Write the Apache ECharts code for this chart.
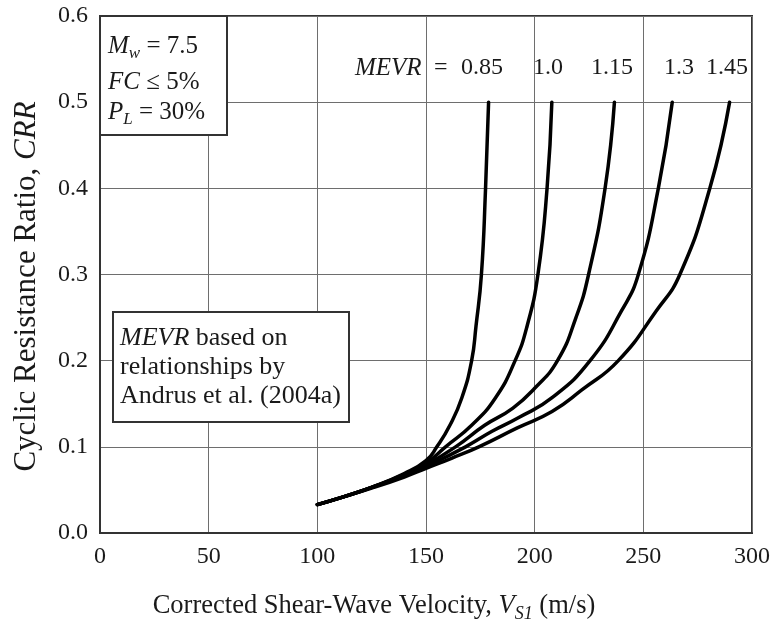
<!DOCTYPE html>
<html>
<head>
<meta charset="utf-8">
<script src="https://cdn.jsdelivr.net/npm/echarts@6/dist/echarts.min.js"></script>
<style>
  html, body { margin: 0; padding: 0; background: #fff; }
  #chart { width: 773px; height: 628px; }
</style>
</head>
<body>
<div id="chart"></div>
<script>
// MEVR curve labels
const mevrLabels = ['0.85', '1.0', '1.15', '1.3', '1.45']

// [Vs1 (m/s), CRR], one array per MEVR curve
const curve085 = [[100, 0.033], [112, 0.042], [125, 0.053], [140, 0.069], [150, 0.084], [155, 0.100], [161, 0.125], [166.5, 0.157], [171, 0.200], [173, 0.240], [175.5, 0.300], [177.4, 0.400], [178.8, 0.500]]
const curve100 = [[100, 0.033], [112, 0.042], [125, 0.053], [140, 0.068], [150, 0.081], [159, 0.100], [171, 0.125], [182, 0.157], [191, 0.200], [196.5, 0.240], [201.5, 0.300], [205.7, 0.400], [207.9, 0.500]]
const curve115 = [[100, 0.033], [112, 0.042], [125, 0.053], [140, 0.067], [150, 0.079], [163.6, 0.100], [177, 0.125], [190, 0.145], [200, 0.168], [210.5, 0.200], [219, 0.250], [224.8, 0.300], [232.4, 0.400], [236.7, 0.500]]
const curve130 = [[100, 0.033], [112, 0.042], [125, 0.053], [140, 0.066], [150, 0.077], [168.2, 0.100], [180.4, 0.118], [192.7, 0.134], [208, 0.157], [225.5, 0.200], [240, 0.258], [247.7, 0.300], [256.9, 0.400], [263.3, 0.500]]
const curve145 = [[100, 0.033], [112, 0.042], [125, 0.052], [140, 0.065], [150, 0.075], [162, 0.087], [174.3, 0.100], [192, 0.122], [208, 0.141], [221.7, 0.166], [238.5, 0.200], [256, 0.258], [266.8, 0.300], [280.6, 0.400], [289.7, 0.500]]

const curves = [curve085, curve100, curve115, curve130, curve145]

// axis ticks
const xTicks = [0, 50, 100, 150, 200, 250, 300]
const yTicks = [0.0, 0.1, 0.2, 0.3, 0.4, 0.5, 0.6]

const FONT = 'Liberation Serif'
const INK = '#1a1a1a'
const FS = 24

const chart = echarts.init(document.getElementById('chart'), null, { renderer: 'canvas' })

// text helper for the boxes and labels
const txt = (x, y, text, size) => ({
  type: 'text',
  x: x,
  y: y,
  z: 110,
  style: {
    text: text,
    fill: INK,
    fontFamily: FONT,
    fontSize: size || FS,
    verticalAlign: 'middle',
    rich: {
      i: { fontFamily: FONT, fontSize: size || FS, fontStyle: 'italic', fill: INK },
      sub: { fontFamily: FONT, fontSize: 17, fontStyle: 'italic', fill: INK, padding: [16, 0, 0, 0] },
      n: { fontFamily: FONT, fontSize: size || FS, fill: INK }
    }
  }
})

const option = {
  animation: false,
  backgroundColor: '#fff',
  grid: {
    left: 100,
    right: 19,
    top: 16,
    bottom: 88,
    show: true,
    borderColor: '#333',
    borderWidth: 2,
    backgroundColor: 'transparent'
  },
  xAxis: {
    type: 'value',
    min: xTicks[0],
    max: xTicks[xTicks.length - 1],
    interval: 50,
    name: 'Corrected Shear-Wave Velocity, {i|V}{sub|S1} (m/s)',
    nameLocation: 'middle',
    nameGap: 56,
    nameTextStyle: {
      fontFamily: FONT,
      fontSize: 26.5,
      color: INK,
      padding: [0, 104, 0, 0],
      rich: {
        i: { fontFamily: FONT, fontSize: 26.5, fontStyle: 'italic', color: INK },
        sub: { fontFamily: FONT, fontSize: 18, fontStyle: 'italic', color: INK, padding: [16, 0, 0, 0] }
      }
    },
    axisLine: { show: true, lineStyle: { color: '#333', width: 2 } },
    axisTick: { show: false },
    axisLabel: { fontFamily: FONT, fontSize: FS, color: INK, margin: 12 },
    splitLine: { show: true, lineStyle: { color: '#6e6e6e', width: 1 } }
  },
  yAxis: {
    type: 'value',
    min: yTicks[0],
    max: yTicks[yTicks.length - 1],
    interval: 0.1,
    name: 'Cyclic Resistance Ratio, {i|CRR}',
    nameLocation: 'middle',
    nameRotate: 90,
    nameGap: 58,
    nameTextStyle: {
      fontFamily: FONT,
      fontSize: 31,
      color: INK,
      padding: [0, 24, 0, 0],
      rich: {
        i: { fontFamily: FONT, fontSize: 31, fontStyle: 'italic', color: INK }
      }
    },
    axisLine: { show: true, lineStyle: { color: '#333', width: 2 } },
    axisTick: { show: false },
    axisLabel: {
      fontFamily: FONT,
      fontSize: FS,
      color: INK,
      margin: 12,
      formatter: v => v.toFixed(1)
    },
    splitLine: { show: true, lineStyle: { color: '#6e6e6e', width: 1 } }
  },
  series: curves.map((c, k) => ({
    name: 'MEVR ' + mevrLabels[k],
    type: 'line',
    data: c,
    smooth: 0.5,
    showSymbol: false,
    clip: false,
    lineStyle: { color: '#000', width: 3.5, cap: 'round' },
    z: 5
  })),
  graphic: [
    // conditions box, top-left
    { type: 'rect', z: 100, shape: { x: 100, y: 16, width: 127, height: 119 }, style: { fill: '#fff', stroke: '#333', lineWidth: 2 } },
    txt(108, 46, '{i|M}{sub|w}{n| = 7.5}', 25),
    txt(108, 82, '{i|FC}{n| ≤ 5%}', 25),
    txt(108, 112, '{i|P}{sub|L}{n| = 30%}', 25),

    // source box
    { type: 'rect', z: 100, shape: { x: 113, y: 312, width: 236, height: 110 }, style: { fill: '#fff', stroke: '#333', lineWidth: 2 } },
    txt(120, 338, '{i|MEVR}{n| based on}', 26),
    txt(120, 367, 'relationships by', 26),
    txt(120, 396, 'Andrus et al. (2004a)', 26),

    // MEVR labels row
    txt(355, 68, '{i|MEVR}', 25),
    txt(434, 68, '='),
    txt(461, 68, mevrLabels[0]),
    txt(533, 68, mevrLabels[1]),
    txt(591, 68, mevrLabels[2]),
    txt(664, 68, mevrLabels[3]),
    txt(706, 68, mevrLabels[4])
  ]
}

chart.setOption(option)
</script>
</body>
</html>
